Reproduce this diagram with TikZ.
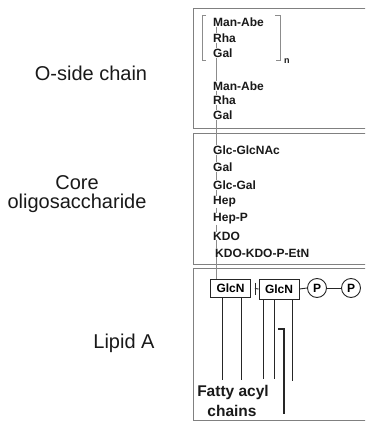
\documentclass[tikz,border=0pt]{standalone}
\usepackage{fontspec}
\setmainfont{Liberation Sans}
\begin{document}
\begin{tikzpicture}[x=1pt,y=-1pt,
  region/.style={draw=black!50, line width=0.6pt},
  sugar/.style={anchor=west, inner sep=0pt, text=black!90,
    font=\bfseries\fontsize{12}{13}\selectfont},
  part/.style={inner sep=0pt, align=center, text=black!90,
    font=\fontsize{20}{19.5}\selectfont},
  link/.style={draw=black!45, line width=0.5pt},
  bond/.style={draw=black!85, line width=0.9pt},
  glcn/.style={draw=black!85, line width=0.9pt, inner sep=0pt, minimum width=40pt,
    font=\bfseries\fontsize{12}{13}\selectfont},
  phos/.style={circle, draw=black!85, line width=0.9pt, minimum size=19pt, inner sep=0pt,
    font=\bfseries\fontsize{12}{13}\selectfont},
  acyl/.style={draw=black!85, line width=1.1pt},
  fatty/.style={inner sep=0pt, text=black!90, font=\bfseries\fontsize{15.5}{17}\selectfont},
]
\useasboundingbox (0,0) rectangle (365,422);

% the three regions of the molecule, open past the right margin
\begin{scope}
  \clip (0,0) rectangle (365,422);
  \draw[region] (193,8)   rectangle (372,128);
  \draw[region] (193,133) rectangle (372,264);
  \draw[region] (193,268) rectangle (372,420.5);
\end{scope}

% labels on the left
\node[part] (lo) at (91,73)   {O-side chain};
\node[part] (lc) at (77,194)  {Core\\oligosaccharide};
\node[part] (ll) at (124,343) {Lipid A};

% O-side chain: repeating unit and terminal unit
\node[sugar] (o1) at (213,22)  {Man-Abe};
\node[sugar] (o2) at (213,38)  {Rha};
\node[sugar] (o3) at (213,53)  {Gal};
\node[sugar] (o4) at (213,86)  {Man-Abe};
\node[sugar] (o5) at (213,100) {Rha};
\node[sugar] (o6) at (213,115) {Gal};

% brackets around the repeating unit
\draw[link, line width=0.6pt] (206,15) -- (202,15) -- (202,60) -- (206,60);
\draw[link, line width=0.6pt] (275,15) -- (280,15) -- (280,60) -- (276,60);
\node[sugar, font=\bfseries\fontsize{9}{10}\selectfont] (rep) at (284,61) {n};

% core oligosaccharide
\node[sugar] (c1) at (213,150) {Glc-GlcNAc};
\node[sugar] (c2) at (213,167) {Gal};
\node[sugar] (c3) at (213,185) {Glc-Gal};
\node[sugar] (c4) at (213,202) {Hep};
\node[sugar] (c5) at (213,219) {Hep-P};
\node[sugar] (c6) at (213,236) {KDO};
\node[sugar] (c7) at (215,253) {KDO-KDO-P-EtN};

% glycosidic links down the chain
\foreach \a/\b in {o1/o2,o2/o3,o3/o4,o4/o5,o5/o6,o6/c1,c1/c2,c2/c3,c3/c4,c4/c5,c5/c6}
  \draw[link] ([xshift=3pt]\a.south west) -- ([xshift=3pt]\b.north west);
\draw[link] ([xshift=3pt]c6.south west) -- ([xshift=1pt]c7.north west);

% lipid A backbone
\node[glcn, minimum height=18pt] (g1) at (230.5,288.5) {GlcN};
\node[glcn, minimum height=20pt] (g2) at (279,289)     {GlcN};
\node[phos] (p1) at (317,288) {P};
\node[phos] (p2) at (351,288) {P};

\draw[link] ([xshift=1pt]c7.south west) -- ([xshift=1pt]c7.south west |- g1.north);
\draw[bond] ([xshift=4pt]g1.east) -- (g2.west);
\draw[bond] ([xshift=4pt,yshift=6pt]g1.east) -- ([xshift=4pt,yshift=-6pt]g1.east);
\draw[bond] (g2.east) -- (p1.west);
\draw[bond] (p1.east) -- (p2.west);

% fatty acyl chains
\draw[acyl] ([xshift=12.5pt]g1.south west) -- ++(0,82);
\draw[acyl] ([xshift=31pt]g1.south west)   -- ++(0,82);
\draw[acyl] ([xshift=5pt]g2.south west)    -- ++(0,80);
\draw[acyl] ([xshift=15.5pt]g2.south west) -- ++(0,80);
\draw[acyl] ([xshift=34pt]g2.south west)   -- ++(0,82);
\draw[acyl] (278,329) -- (284,329) -- (284,414);

\node[fatty] (fa1) at (233,392) {Fatty acyl};
\node[fatty] (fa2) at (232,411) {chains};
\end{tikzpicture}
\end{document}
